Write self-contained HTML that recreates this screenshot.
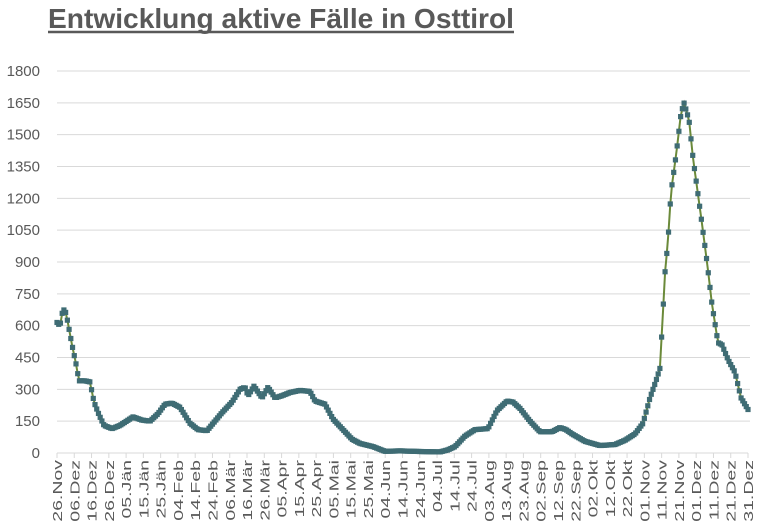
<!DOCTYPE html>
<html><head><meta charset="utf-8"><style>
html,body{margin:0;padding:0;background:#fff;}
body{width:768px;height:528px;overflow:hidden;font-family:"Liberation Sans",sans-serif;}
</style></head><body>
<svg id="s" width="768" height="528" xmlns="http://www.w3.org/2000/svg" style="position:absolute;left:0;top:0">
<text x="48" y="28" font-family="Liberation Sans" font-weight="bold" font-size="28" fill="#595959" textLength="466" lengthAdjust="spacingAndGlyphs">Entwicklung aktive Fälle in Osttirol</text>
<line x1="48" y1="32" x2="514" y2="32" stroke="#595959" stroke-width="2.5"/>
<g id="grid"></g><g id="ax"></g><g id="ser"></g>
</svg>
<script>
var ns="http://www.w3.org/2000/svg";
function el(p,t,a,txt){var e=document.createElementNS(ns,t);for(var k in a)e.setAttribute(k,a[k]);if(txt!=null)e.textContent=txt;document.getElementById(p).appendChild(e);return e;}
var X0=57,X1=748,Y0=453,Y1=71;
function yv(v){return Y0-(v/1800)*(Y0-Y1);}
for(var i=0;i<=12;i++){var v=i*150,y=yv(v);
 if(i>0)el("grid","line",{x1:X0,x2:X1+2,y1:y,y2:y,stroke:"#d9d9d9","stroke-width":1});
 el("ax","text",{x:40,y:y+5,"text-anchor":"end","font-size":15,fill:"#595959","font-family":"Liberation Sans"},v);}
el("ax","line",{x1:X0,x2:X1,y1:Y0,y2:Y0,stroke:"#d9d9d9","stroke-width":1});
var labs=["26.Nov","06.Dez","16.Dez","26.Dez","05.Jän","15.Jän","25.Jän","04.Feb","14.Feb","24.Feb","06.Mär","16.Mär","26.Mär","05.Apr","15.Apr","25.Apr","05.Mai","15.Mai","25.Mai","04.Jun","14.Jun","24.Jun","04.Jul","14.Jul","24.Jul","03.Aug","13.Aug","23.Aug","02.Sep","12.Sep","22.Sep","02.Okt","12.Okt","22.Okt","01.Nov","11.Nov","21.Nov","01.Dez","11.Dez","21.Dez","31.Dez"];
var dx=(X1-X0)/40;
for(var i=0;i<labs.length;i++){var x=X0+i*dx;
 el("ax","line",{x1:x,x2:x,y1:Y0,y2:Y0+5,stroke:"#d9d9d9"});
 el("ax","text",{transform:"translate("+(x+5)+",460) rotate(-90) scale(1.5,1)","text-anchor":"end","font-size":13,fill:"#595959","font-family":"Liberation Sans"},labs[i]);}
var pts=[[57,615],[60,600],[63,680],[66,660],[72,510],[76,420],[79,340],[85,340],[90,335],[94,240],[99,180],[104,130],[112,115],[120,130],[133,170],[142,155],[150,150],[158,185],[165,230],[172,235],[180,215],[190,140],[198,110],[207,105],[222,190],[232,240],[240,300],[245,310],[248,270],[254,315],[262,260],[268,310],[275,260],[282,270],[290,285],[300,295],[310,290],[315,245],[325,230],[333,160],[345,100],[352,65],[360,45],[373,30],[385,8],[400,10],[420,7],[440,5],[448,15],[455,30],[465,80],[475,110],[488,115],[497,200],[507,245],[513,240],[520,210],[530,150],[540,100],[552,100],[560,120],[566,110],[572,90],[585,55],[600,35],[615,40],[625,60],[635,90],[643,140],[650,260],[656,340],[660,400],[665,850],[668,1000],[671,1230],[676,1400],[681,1600],[684,1650],[689,1570],[693,1390],[700,1150],[707,900],[712,700],[718,520],[722,510],[728,440],[735,380],[741,260],[748,205]];
function interp(x){for(var i=0;i<pts.length-1;i++){if(x<=pts[i+1][0]){var a=pts[i],b=pts[i+1];var t=(x-a[0])/(b[0]-a[0]);return a[1]+t*(b[1]-a[1]);}}return pts[pts.length-1][1];}
var d="",ms=[];
for(var k=0;k<=400;k++){var x=X0+k*(X1-X0)/400;var y=yv(interp(x));d+=(k?"L":"M")+x.toFixed(1)+" "+y.toFixed(1);ms.push([x,y]);}
el("ser","path",{d:d,fill:"none",stroke:"#6b8a3a","stroke-width":2});
ms.forEach(function(p){el("ser","rect",{x:p[0]-2.6,y:p[1]-2.6,width:5.2,height:5.2,fill:"#3f6c74"});});
</script>
</body></html>
